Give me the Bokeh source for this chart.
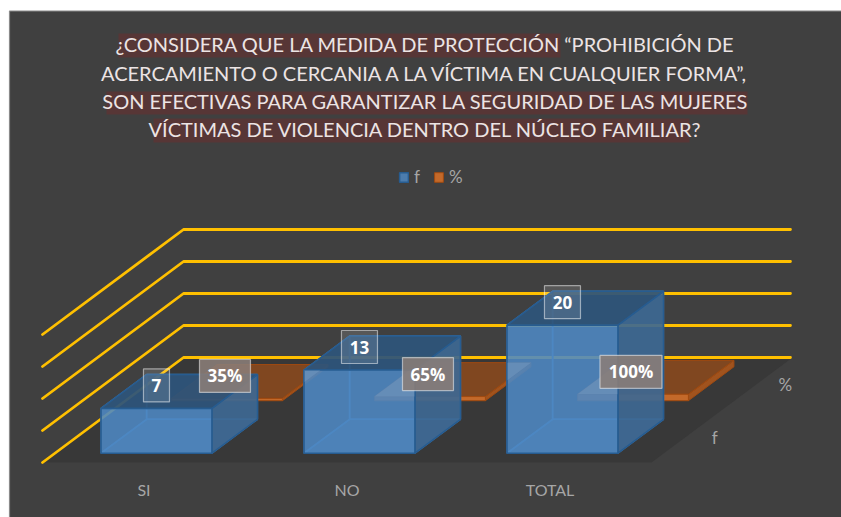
from bokeh.plotting import figure
from bokeh.models import Range1d, Legend, LegendItem
from bokeh.core.properties import value
from bokeh.embed import file_html
from bokeh.resources import INLINE

# ---- data
categories = ["SI", "NO", "TOTAL"]
series_names = ["f", "%"]
f_values = [7, 13, 20]
pct_values = [0.35, 0.65, 1.0]
pct_labels = ["35%", "65%", "100%"]
f_labels = ["7", "13", "20"]
value_ticks = [0, 5, 10, 15, 20]
title_lines = [
    "¿CONSIDERA QUE LA MEDIDA DE PROTECCIÓN “PROHIBICIÓN DE",
    "ACERCAMIENTO O CERCANIA A LA VÍCTIMA EN CUALQUIER FORMA”,",
    "SON EFECTIVAS PARA GARANTIZAR LA SEGURIDAD DE LAS MUJERES",
    "VÍCTIMAS DE VIOLENCIA DENTRO DEL NÚCLEO FAMILIAR?",
]

# ---- oblique projection of (category position, series depth, value)
X0, Y0, CAT_W, DX, DY, UNIT = 42.0, 462.0, 203.0, 70.5, 52.5, 6.4
BAR_HALF, GAP = 0.273, 0.177
BG = "#404040"


def proj(c, d, v=0.0):
    return (X0 + c * CAT_W + d * DX, Y0 - v * UNIT - d * DY)


def box(i, s, v):
    c0, c1 = i + 0.5 - BAR_HALF, i + 0.5 + BAR_HALF
    d0, d1 = s + GAP, s + 1 - GAP
    P = lambda c, d, h: proj(c, d, h)
    return {
        "front": [P(c0, d0, 0), P(c1, d0, 0), P(c1, d0, v), P(c0, d0, v)],
        "back": [P(c0, d1, 0), P(c1, d1, 0), P(c1, d1, v), P(c0, d1, v)],
        "left": [P(c0, d0, 0), P(c0, d1, 0), P(c0, d1, v), P(c0, d0, v)],
        "right": [P(c1, d0, 0), P(c1, d1, 0), P(c1, d1, v), P(c1, d0, v)],
        "top": [P(c0, d0, v), P(c1, d0, v), P(c1, d1, v), P(c0, d1, v)],
        "bottom": [P(c0, d0, 0), P(c1, d0, 0), P(c1, d1, 0), P(c0, d1, 0)],
    }


def xy(polys):
    return [[q[0] for q in poly] for poly in polys], [[q[1] for q in poly] for poly in polys]


def clip_rect(poly, x0, x1, y0, y1):
    def cut(pts, inside, inter):
        out = []
        for k, a in enumerate(pts):
            b = pts[(k + 1) % len(pts)]
            if inside(a):
                out.append(a)
            if inside(a) != inside(b):
                out.append(inter(a, b))
        return out

    def atx(x):
        return lambda a, b: (x, a[1] + (b[1] - a[1]) * (x - a[0]) / (b[0] - a[0]))

    def aty(y):
        return lambda a, b: (a[0] + (b[0] - a[0]) * (y - a[1]) / (b[1] - a[1]), y)

    pts = cut(poly, lambda q: q[0] >= x0, atx(x0))
    if pts:
        pts = cut(pts, lambda q: q[0] <= x1, atx(x1))
    if pts:
        pts = cut(pts, lambda q: q[1] >= y0, aty(y0))
    if pts:
        pts = cut(pts, lambda q: q[1] <= y1, aty(y1))
    return pts


p = figure(width=841, height=517, output_backend="svg", toolbar_location=None,
           x_range=Range1d(0, 841), y_range=Range1d(517, 0),
           x_axis_location=None, y_axis_location=None, min_border=0,
           background_fill_color="#ffffff", border_fill_color="#ffffff",
           outline_line_color=None)
p.grid.visible = False

# chart area
p.quad(left=[9], right=[841], top=[10.5], bottom=[517], fill_color=BG, line_color=None)
p.line([9, 9, 841], [517, 10.5, 10.5], line_color="#8a8a8a", line_width=1.2)

# title highlights
p.quad(left=[118, 106, 153], right=[560, 747, 689], top=[33, 91, 118], bottom=[57, 114, 142],
       fill_color="#573636", line_color=None)
p.text(x=[425] * 4, y=[43, 72, 100, 128], text=title_lines, text_align="center", text_baseline="middle",
       text_color="#ece4e4", text_font=value("Lato"), text_font_size="20px")

# floor
floor = [proj(0, 0), proj(3, 0), proj(3, 2), proj(0, 2)]
fx, fy = xy([floor])
p.patches(fx, fy, fill_color="#383838", line_color=None)

# grid lines (left wall, back wall)
for t in value_ticks:
    a, b, c = proj(0, 0, t), proj(0, 2, t), proj(2.99, 2, t)
    p.line([a[0], b[0], c[0]], [a[1], b[1], c[1]], line_color="#ffc000", line_width=2.8,
           line_cap="round", line_join="round")

# % bars
orange = [box(i, 1, v) for i, v in enumerate(pct_values)]
for face, col, al in (("right", "#a5541c", 0.95), ("top", "#84481f", 0.95), ("front", "#c66a2a", 0.98)):
    xs, ys = xy([b[face] for b in orange])
    r = p.patches(xs, ys, fill_color=col, fill_alpha=al, line_color="#a04a10", line_width=1)
    if face == "front":
        legend_pct = r

# f bars
blue = [box(i, 0, v) for i, v in enumerate(f_values)]
EDGE = "#275c90"
for face, col, al, lc in (("back", "#3f6f9f", 0.35, "#3f78b0"), ("left", "#3f6f9f", 0.35, "#3f78b0"),
                          ("bottom", "#4b80b5", 0.55, "#3f78b0"), ("right", "#3d6892", 0.88, EDGE),
                          ("top", "#2d5379", 0.9, EDGE), ("front", "#4f8ac6", 0.82, EDGE)):
    xs, ys = xy([b[face] for b in blue])
    r = p.patches(xs, ys, fill_color=col, fill_alpha=al, line_color=lc, line_width=1.5)
    if face == "front":
        legend_f = r

# % bars seen through the glass of the f bars: pale sheen
sheen = []
for o in orange:
    for b in blue:
        fr = b["front"]
        poly = clip_rect(o["top"], fr[0][0], fr[1][0], fr[2][1], fr[0][1])
        if len(poly) >= 3:
            sheen.append(poly)
if sheen:
    xs, ys = xy(sheen)
    p.patches(xs, ys, fill_color="#ffffff", fill_alpha=0.1, line_color=None)

# data labels
def label_boxes(xs, ys, texts, fill, alpha):
    width = {1: 26, 2: 36, 3: 51, 4: 62}
    p.rect(xs, ys, width=[width[len(t)] for t in texts], height=[33] * len(texts),
           fill_color=fill, fill_alpha=alpha, line_color="#ffffff", line_alpha=0.5, line_width=1.2)
    p.text(xs, ys, text=texts, text_align="center", text_baseline="middle", text_color="#ffffff",
           text_font=value("Open Sans"), text_font_style="bold", text_font_size="17px")


fpos = [proj(i + 0.5, GAP, v) for i, v in enumerate(f_values)]
label_boxes([q[0] for q in fpos], [q[1] - 23 for q in fpos], f_labels, "#ffffff", 0.12)
ppos = [proj(i + 0.5, 1 + GAP, v) for i, v in enumerate(pct_values)]
label_boxes([q[0] - 2 for q in ppos], [q[1] - 22.5 for q in ppos], pct_labels, "#8a7d78", 0.88)

# category and series labels
cpos = [proj(i + 0.5, 0) for i in range(len(categories))]
p.text([q[0] for q in cpos], [q[1] + 27 for q in cpos], text=categories, text_align="center",
       text_baseline="middle", text_color="#a6a6a6", text_font=value("Lato"), text_font_size="16px")
spos = [proj(3, s + 0.5) for s in range(len(series_names))]
p.text([q[0] + 28 for q in spos], [q[1] + 1 for q in spos], text=series_names, text_align="center",
       text_baseline="middle", text_color="#a6a6a6", text_font=value("Lato"), text_font_size="17px")

# legend
legend = Legend(items=[LegendItem(label="f", renderers=[legend_f]), LegendItem(label="%", renderers=[legend_pct])],
                location=(398, 330), orientation="horizontal", background_fill_alpha=0, border_line_alpha=0,
                glyph_width=11, glyph_height=12, label_text_color="#a6a6a6", label_text_font="Lato",
                label_text_font_size="17px", label_standoff=5, label_width=1, spacing=13, padding=0, margin=0)
p.add_layout(legend, "center")

open("out.html", "w").write(file_html(p, INLINE))
